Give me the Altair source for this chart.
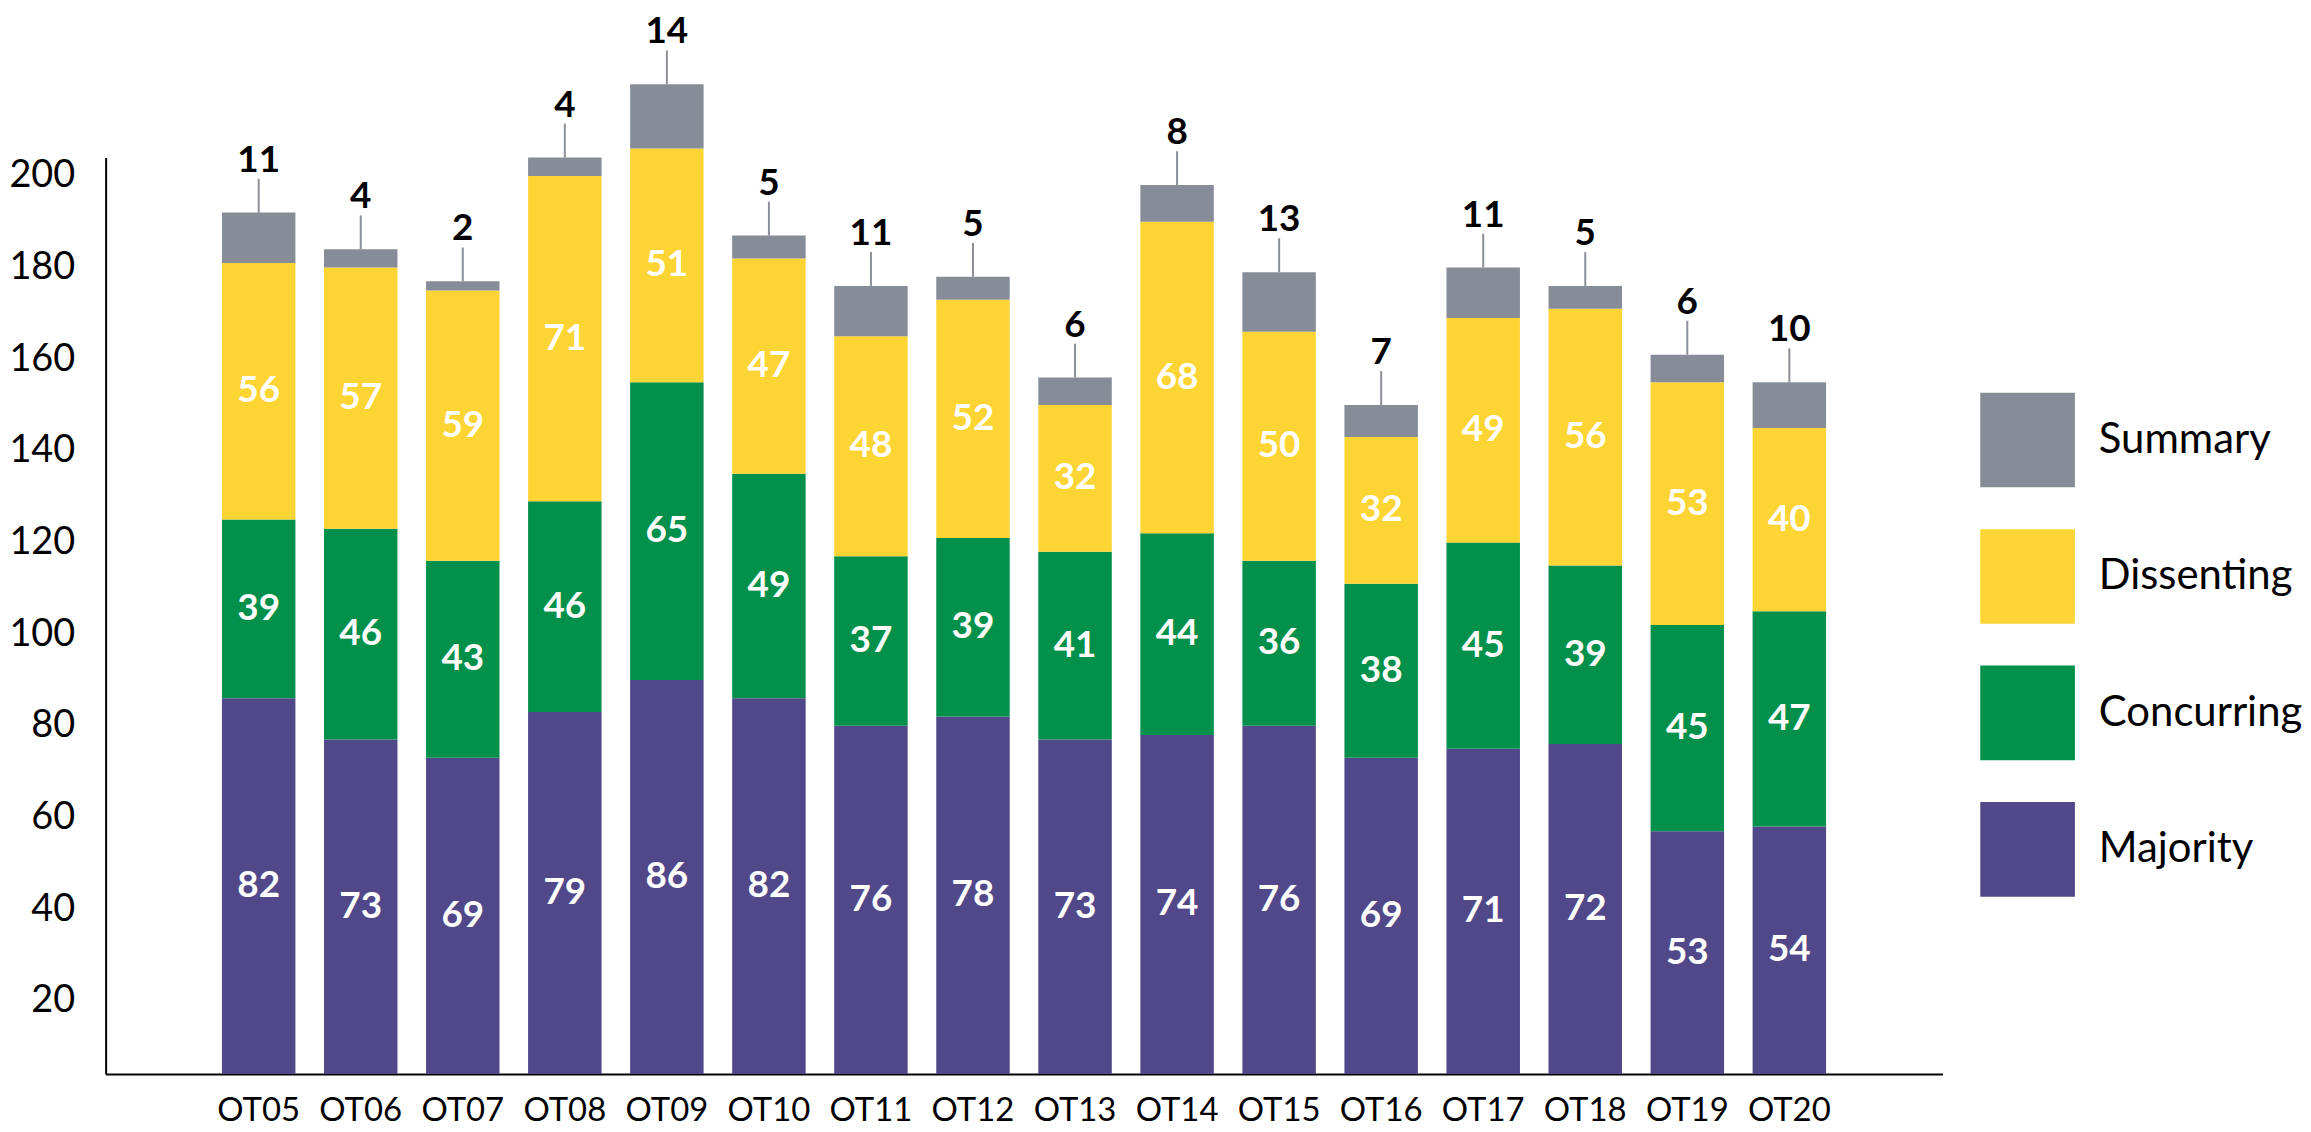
import altair as alt
import pandas as pd

terms = ["OT05", "OT06", "OT07", "OT08", "OT09", "OT10", "OT11", "OT12",
         "OT13", "OT14", "OT15", "OT16", "OT17", "OT18", "OT19", "OT20"]
majority = [82, 73, 69, 79, 86, 82, 76, 78, 73, 74, 76, 69, 71, 72, 53, 54]
concurring = [39, 46, 43, 46, 65, 49, 37, 39, 41, 44, 36, 38, 45, 39, 45, 47]
dissenting = [56, 57, 59, 71, 51, 47, 48, 52, 32, 68, 50, 32, 49, 56, 53, 40]
summary = [11, 4, 2, 4, 14, 5, 11, 5, 6, 8, 13, 7, 11, 5, 6, 10]

stack_order = ["Majority", "Concurring", "Dissenting", "Summary"]
legend_order = ["Summary", "Dissenting", "Concurring", "Majority"]
legend_colors = ["#878D98", "#FCD535", "#03904A", "#51488A"]
BASE = 4  # bars start slightly above zero in the original

# empty slots at both ends of the category axis (as in the original)
x_domain = ["_L"] + terms + ["_R"]

rows = []
for i, t in enumerate(terms):
    for k, (name, vals) in enumerate(zip(stack_order, [majority, concurring, dissenting, summary])):
        rows.append({"term": t, "type": name, "order": k, "count": vals[i]})
df = pd.DataFrame(rows)

FONT = "Lato"

base = alt.Chart(df).transform_stack(
    stack="count", groupby=["term"], as_=["s0", "s1"],
    sort=[alt.SortField("order", order="ascending")]
).transform_calculate(
    y0=f"datum.s0 + {BASE}",
    y1=f"datum.s1 + {BASE}",
    ymid=f"(datum.s0 + datum.s1) / 2 + {BASE}",
)

x = alt.X(
    "term:N",
    scale=alt.Scale(domain=x_domain, paddingInner=0.28, paddingOuter=0.14),
    axis=alt.Axis(title=None, labelAngle=0, ticks=False, domainColor="black",
                  domainWidth=2, labelFontSize=33, labelPadding=21,
                  labelColor="black", labelFont=FONT, labelBaseline="top",
                  labelExpr="datum.value == '_L' || datum.value == '_R' ? '' : datum.value"),
)
yscale = alt.Scale(domain=[4, 204], zero=False, nice=False)

bars = base.mark_bar().encode(
    x=x,
    y=alt.Y("y0:Q", scale=yscale,
            axis=alt.Axis(title=None, values=list(range(20, 201, 20)), ticks=False,
                          grid=False, domainColor="black", domainWidth=2,
                          labelFontSize=38, labelPadding=31, labelColor="black",
                          labelFont=FONT)),
    y2="y1:Q",
    color=alt.Color("type:N",
                    scale=alt.Scale(domain=legend_order, range=legend_colors),
                    legend=alt.Legend(title=None, orient="none", legendX=1882, legendY=236,
                                      symbolType="square", symbolSize=9025,
                                      symbolStrokeWidth=0, labelFontSize=42,
                                      labelOffset=24, rowPadding=42, padding=0,
                                      labelLimit=0,
                                      labelFont=FONT, labelColor="black")),
)

inner = base.transform_filter("datum.type != 'Summary'").mark_text(
    color="white", fontWeight="bold", fontSize=37, baseline="middle", font=FONT
).encode(x=x, y=alt.Y("ymid:Q", scale=yscale), text="count:Q")

summ = base.transform_filter("datum.type == 'Summary'")
leader = summ.mark_rule(color="#8A8F98", strokeWidth=2, y2Offset=-34).encode(
    x=x, y=alt.Y("y1:Q", scale=yscale), y2="y1:Q")
top_lbl = summ.mark_text(
    color="black", fontWeight="bold", fontSize=37, baseline="alphabetic", dy=-41, font=FONT
).encode(x=x, y=alt.Y("y1:Q", scale=yscale), text="count:Q")

chart = alt.layer(bars, inner, leader, top_lbl).properties(
    width=1844, height=920, padding={"left": 0, "top": 3, "right": 0, "bottom": 0}
).configure_view(stroke=None)

chart.save("out.html", embed_options={"renderer": "svg", "actions": False})
